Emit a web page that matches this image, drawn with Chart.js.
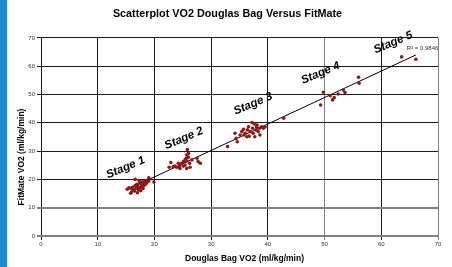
<!DOCTYPE html>
<html>
<head>
<meta charset="utf-8">
<script src="https://cdn.jsdelivr.net/npm/chart.js@4.4.1/dist/chart.umd.min.js"></script>
<style>
  html, body { margin: 0; padding: 0; background: #fff; }
  #wrap { width: 452px; height: 267px; }
</style>
</head>
<body>
<div id="wrap"><canvas id="vo2Chart" width="452" height="267"></canvas></div>
<script>
// Douglas Bag VO2 (x) vs FitMate VO2 (y), ml/kg/min - one pair per stage
const stage1Bag = [15.2, 15.5, 15.8, 15.9, 16.0, 16.1, 16.3, 16.5, 16.6, 16.6, 16.8, 16.9, 17.0, 17.1, 17.2, 17.3, 17.4, 17.5, 17.6, 17.7, 17.8, 17.9, 18.0, 18.1, 18.2, 18.4, 18.5, 18.7, 19.0, 19.0, 19.9];
const stage1Fit = [16.5, 17.0, 15.1, 16.9, 15.6, 17.2, 16.5, 15.9, 20.0, 17.8, 16.9, 18.3, 15.3, 17.5, 16.3, 19.6, 18.8, 17.1, 16.0, 18.2, 17.6, 19.2, 16.8, 18.9, 17.9, 19.6, 18.4, 19.0, 20.6, 19.4, 19.1];

const stage2Bag = [22.6, 22.9, 23.3, 23.6, 23.9, 24.2, 24.4, 24.5, 24.5, 24.8, 25.1, 25.1, 25.4, 25.4, 25.6, 25.7, 25.7, 25.7, 25.8, 26.0, 26.0, 26.2, 26.3, 26.6, 27.5, 27.7, 28.1];
const stage2Fit = [24.3, 26.0, 24.5, 24.7, 24.3, 25.7, 24.5, 25.1, 23.9, 25.7, 26.3, 24.7, 26.9, 25.1, 27.5, 26.5, 28.6, 23.9, 30.6, 29.2, 27.8, 25.7, 24.3, 26.9, 27.5, 26.3, 25.7];

const stage3Bag = [32.9, 34.2, 34.4, 34.6, 35.1, 35.4, 35.7, 35.8, 36.0, 36.3, 36.4, 36.6, 36.7, 36.9, 37.2, 37.3, 37.4, 37.6, 37.7, 37.9, 38.0, 38.1, 38.3, 38.5, 38.6, 38.9, 39.2, 39.5, 42.8];
const stage3Fit = [31.6, 36.3, 34.5, 33.3, 35.7, 36.9, 37.7, 35.7, 36.3, 35.1, 37.5, 38.6, 35.3, 36.9, 40.1, 38.1, 36.3, 39.6, 35.1, 37.5, 38.6, 39.2, 36.9, 38.1, 35.7, 38.6, 38.1, 38.6, 41.6];

const stage4Bag = [49.3, 49.8, 51.0, 51.4, 51.7, 52.4, 53.3, 53.6, 56.0, 56.1];
const stage4Fit = [46.3, 50.8, 49.6, 48.1, 48.9, 50.2, 51.6, 50.7, 56.1, 54.0];

const stage5Bag = [63.6, 66.1];
const stage5Fit = [63.3, 62.5];

// linear trend line, ends
const trendBag = [15.1, 66.1];
const trendFit = [16.3, 64.0];

// stage captions, placed in data units
const stageNames = ["Stage 1", "Stage 2", "Stage 3", "Stage 4", "Stage 5"];
const stageLabelX = [14.9, 25.2, 37.4, 49.3, 62.1];
const stageLabelY = [24.2, 34.5, 46.7, 57.6, 68.4];

const rSquaredText = "R\u00B2 = 0,9846";
const rSquaredAt = [64.5, 66.3];

const xTitle = "Douglas Bag VO2 (ml/kg/min)";
const yTitle = "FitMate VO2 (ml/kg/min)";

const axisTicks = [0, 10, 20, 30, 40, 50, 60, 70];

const FONT = "Arial, 'Liberation Sans', sans-serif";

function toPoints(xs, ys) {
    return xs.map((x, i) => ({ x: x, y: ys[i] }));
}

const allPoints = []
    .concat(toPoints(stage1Bag, stage1Fit))
    .concat(toPoints(stage2Bag, stage2Fit))
    .concat(toPoints(stage3Bag, stage3Fit))
    .concat(toPoints(stage4Bag, stage4Fit))
    .concat(toPoints(stage5Bag, stage5Fit));

// blue strip on the left + white background
const pagePlugin = {
    id: "page",
    beforeDraw(chart) {
        const c = chart.ctx;
        c.save();
        c.fillStyle = "#ffffff";
        c.fillRect(0, 0, chart.width, chart.height);
        c.fillStyle = "#1b8ad6";
        c.fillRect(0, 0, 7, chart.height);
        c.restore();
    }
};

// axis titles (off-centre like the original), stage captions, R squared
const notesPlugin = {
    id: "notes",
    afterDatasetsDraw(chart) {
        const c = chart.ctx;
        const xs = chart.scales.x;
        const ys = chart.scales.y;
        const area = chart.chartArea;
        c.save();
        c.fillStyle = "#000";
        c.textAlign = "center";
        c.textBaseline = "middle";

        c.font = "bold 8.5px " + FONT;
        c.fillText(xTitle, (area.left + area.right) / 2 + 5, 259);
        c.save();
        c.translate(21.5, (area.top + area.bottom) / 2 + 20);
        c.rotate(-Math.PI / 2);
        c.fillText(yTitle, 0, 0);
        c.restore();

        c.font = "italic bold 11.5px " + FONT;
        stageNames.forEach((name, i) => {
            c.save();
            c.translate(xs.getPixelForValue(stageLabelX[i]), ys.getPixelForValue(stageLabelY[i]));
            c.rotate(-23 * Math.PI / 180);
            c.fillText(name, 0, 0);
            c.restore();
        });

        c.font = "6px " + FONT;
        c.fillStyle = "#333";
        c.textAlign = "left";
        c.fillText(rSquaredText, xs.getPixelForValue(rSquaredAt[0]), ys.getPixelForValue(rSquaredAt[1]));
        c.restore();
    }
};

const ctx = document.getElementById("vo2Chart").getContext("2d");

new Chart(ctx, {
    type: "scatter",
    data: {
        datasets: [
            {
                label: "VO2",
                data: allPoints,
                pointRadius: 1.8,
                pointHoverRadius: 1.8,
                pointBorderWidth: 0,
                pointBackgroundColor: "#8b1a1a",
                pointBorderColor: "#8b1a1a"
            },
            {
                type: "line",
                label: "Trend",
                data: toPoints(trendBag, trendFit),
                borderColor: "#000",
                borderWidth: 1,
                pointRadius: 0,
                fill: false
            }
        ]
    },
    options: {
        responsive: false,
        animation: false,
        devicePixelRatio: 1,
        layout: { padding: { left: 17, right: 14, top: 0, bottom: 0 } },
        plugins: {
            legend: { display: false },
            tooltip: { enabled: false },
            title: {
                display: true,
                text: "Scatterplot VO2 Douglas Bag Versus FitMate",
                color: "#000",
                font: { family: FONT, size: 10.8, weight: "bold" },
                padding: { top: 7.5, bottom: 17.5 }
            }
        },
        scales: {
            x: {
                type: "linear",
                min: 0,
                max: 70,
                afterBuildTicks: s => { s.ticks = axisTicks.map(v => ({ value: v })); },
                afterFit: s => { s.height = 31; },
                grid: {
                    color: c => ([50, 70].includes(c.tick && c.tick.value) ? "#808080" : "#1a1a1a"),
                    lineWidth: 1,
                    tickLength: 4
                },
                border: { display: false },
                ticks: { color: "#333", font: { family: FONT, size: 6 }, padding: 1, maxRotation: 0 }
            },
            y: {
                type: "linear",
                min: 0,
                max: 70,
                afterBuildTicks: s => { s.ticks = axisTicks.map(v => ({ value: v })); },
                afterFit: s => { s.width = 24; },
                grid: {
                    color: c => ([0, 10].includes(c.tick && c.tick.value) ? "#808080" : "#1a1a1a"),
                    lineWidth: c => ([0, 10].includes(c.tick && c.tick.value) ? 2 : 1),
                    tickLength: 4
                },
                border: { display: false },
                ticks: { color: "#333", font: { family: FONT, size: 6 }, padding: 2 }
            }
        }
    },
    plugins: [pagePlugin, notesPlugin]
});
</script>
</body>
</html>
